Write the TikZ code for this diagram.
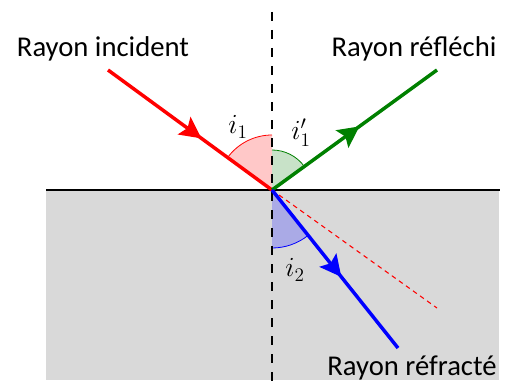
\documentclass[tikz,border=0pt]{standalone}
\usepackage{fontspec}
\setmainfont{Carlito}
\usetikzlibrary{arrows.meta,decorations.markings,calc}
\definecolor{grayfill}{RGB}{217,217,217}
\definecolor{rayred}{RGB}{255,0,0}
\definecolor{raygreen}{RGB}{0,128,0}
\definecolor{rayblue}{RGB}{0,0,255}
\definecolor{redfill}{RGB}{255,200,200}
\definecolor{greenfill}{RGB}{200,226,200}
\definecolor{bluefill}{RGB}{170,170,230}
\tikzset{
  ray/.style={line width=2.6pt},
  midarrow/.style={postaction={decorate,decoration={markings,
      mark=at position #1 with {\arrow{Stealth[length=16pt,width=16pt,inset=3pt]}}}}},
  lbl/.style={font=\fontsize{21.5}{26}\selectfont, anchor=base, inner sep=0pt},
  anglbl/.style={font=\fontsize{22}{26}\selectfont, inner sep=0pt},
}
\begin{document}
\begin{tikzpicture}[x=0.75pt,y=0.75pt]
\useasboundingbox (0,0) rectangle (518,383);
% coordinates (pixel-based, y up)
\coordinate (O) at (272,193);
\coordinate (A) at (108,313);
\coordinate (B) at (437,313);
\coordinate (C) at (398,35);
\coordinate (D) at (437,75);
\coordinate (Vt) at (272,371);
\coordinate (Vb) at (272,0);
\coordinate (Hl) at (46,193);
\coordinate (Hr) at (500,193);
% medium
\fill[grayfill] (46,3) rectangle (499,193);
% angle fills
\fill[redfill] (O) -- ++(90:55) arc[start angle=90, end angle=143.8, radius=55] -- cycle;
\draw[rayred, line width=0.6pt] ($(O)+(90:55)$) arc[start angle=90, end angle=143.8, radius=55];
\fill[greenfill] (O) -- ++(36.2:40) arc[start angle=36.2, end angle=90, radius=40] -- cycle;
\draw[raygreen, line width=0.6pt] ($(O)+(36.2:40)$) arc[start angle=36.2, end angle=90, radius=40];
\fill[bluefill] (O) -- ++(-90:58) arc[start angle=-90, end angle=-51.4, radius=58] -- cycle;
\draw[rayblue, line width=0.6pt] ($(O)+(-90:58)$) arc[start angle=-90, end angle=-51.4, radius=58];
% interface
\draw[line width=1.9pt] (Hl) -- (Hr);
% normal
\draw[line width=2.1pt, dash pattern=on 6.4pt off 7.1pt] (Vt) -- (Vb);
% red dashed continuation
\draw[rayred, line width=0.8pt, dash pattern=on 3.5pt off 3pt] (O) -- (D);
% rays
\draw[ray, rayred, midarrow=0.57] (A) -- (O);
\draw[ray, raygreen, midarrow=0.53] (O) -- (B);
\draw[ray, rayblue, midarrow=0.55] (O) -- (C);
% labels
\node[lbl] (li) at (103,326) {Rayon incident};
\node[lbl] (lr) at (414,326) {Rayon réfléchi};
\node[lbl] (lt) at (412,8) {Rayon réfracté};
\node[anglbl] (i1) at (238,256) {$i_1$};
\node[anglbl] (i1p) at (301,250) {$i_1'$};
\node[anglbl] (i2) at (295,113) {$i_2$};
\end{tikzpicture}
\end{document}
